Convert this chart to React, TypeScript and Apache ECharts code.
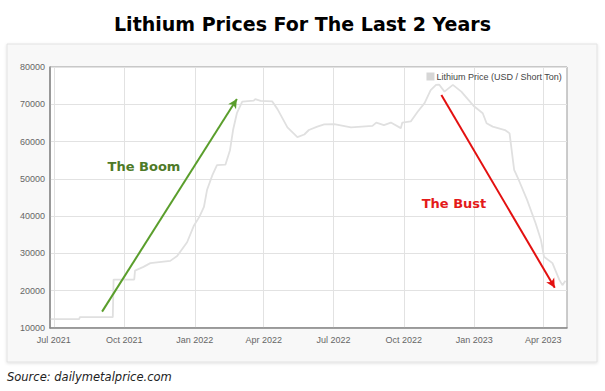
import React, { useEffect, useRef } from "react";
import * as echarts from "echarts";

const dates: string[] = [
  "2021-06-27", "2021-08-03", "2021-08-04", "2021-09-16", "2021-09-17", "2021-10-14",
  "2021-10-15", "2021-10-26", "2021-11-04", "2021-11-30", "2021-12-09", "2021-12-22",
  "2021-12-31", "2022-01-07", "2022-01-13", "2022-01-17", "2022-01-24", "2022-01-30",
  "2022-02-10", "2022-02-16", "2022-02-20", "2022-02-25", "2022-03-04", "2022-03-19",
  "2022-03-21", "2022-03-28", "2022-04-12", "2022-04-19", "2022-05-02", "2022-05-15",
  "2022-05-24", "2022-05-30", "2022-06-10", "2022-06-19", "2022-07-02", "2022-07-24",
  "2022-08-21", "2022-08-26", "2022-09-05", "2022-09-14", "2022-09-27", "2022-09-29",
  "2022-10-10", "2022-10-19", "2022-10-28", "2022-11-05", "2022-11-12", "2022-11-16",
  "2022-11-23", "2022-12-04", "2022-12-15", "2022-12-28", "2023-01-01", "2023-01-12",
  "2023-01-17", "2023-01-25", "2023-02-10", "2023-02-16", "2023-02-22", "2023-02-28",
  "2023-03-11", "2023-03-22", "2023-03-29", "2023-04-02", "2023-04-13", "2023-04-22",
  "2023-04-26", "2023-04-30",
];

const prices: number[] = [
  12400, 12400, 12900, 12900, 23000, 23000,
  25400, 26400, 27400, 28000, 29300, 33000,
  37500, 39800, 42500, 47000, 51000, 53700,
  53800, 57700, 63100, 67600, 70700, 71000,
  71400, 70900, 70800, 68700, 63800, 61200,
  61900, 63100, 64000, 64600, 64700, 63800,
  64200, 65100, 64400, 65100, 63600, 65100,
  65400, 68000, 70300, 73800, 75200, 75300,
  73400, 75200, 73400, 70300, 69400, 67600,
  64900, 64000, 63100, 62200, 52400, 49700,
  44300, 38100, 33600, 29100, 27400, 22900,
  21500, 22700,
];

const xTicks: string[] = [
  "2021-07-01", "2021-10-01", "2022-01-01", "2022-04-01",
  "2022-07-01", "2022-10-01", "2023-01-01", "2023-04-01",
];
const xRange: string[] = ["2021-06-26", "2023-05-02"];
const yRange: number[] = [10000, 80000, 10000];

const boomArrow = { from: ["2021-09-02", 14400], to: ["2022-02-25", 71400] };
const bustArrow = { from: ["2022-11-19", 72500], to: ["2023-04-16", 20800] };

const seriesName = "Lithium Price (USD / Short Ton)";
const monthNames = ["Jan", "Feb", "Mar", "Apr", "May", "Jun", "Jul", "Aug", "Sep", "Oct", "Nov", "Dec"];

const ts = (s: string) => {
  const [y, m, d] = s.split("-").map(Number);
  return Date.UTC(y, m - 1, d);
};

export default function App() {
  const ref = useRef<HTMLDivElement>(null);
  useEffect(() => {
    if (!ref.current) return;
    const chart = echarts.init(ref.current, undefined, { renderer: "svg" });
    const data = dates.map((d, i) => [ts(d), prices[i]]);
    const tickVals = xTicks.map(ts);
    chart.setOption({
      animation: false,
      backgroundColor: "#ffffff",
      title: {
        text: "Lithium Prices For The Last 2 Years",
        left: "center",
        top: 9,
        textStyle: { fontFamily: "DejaVu Sans", fontWeight: "bold", fontSize: 19, color: "#000" },
      },
      graphic: [
        {
          type: "rect",
          z: -10,
          shape: { x: 7, y: 44, width: 590, height: 318 },
          style: { fill: "#f8f8f8", stroke: "#e2e2e2", lineWidth: 1, shadowBlur: 3, shadowColor: "rgba(0,0,0,0.12)", shadowOffsetY: 1 },
        },
        {
          type: "text",
          z: 100,
          x: 144,
          y: 166,
          style: { text: "The Boom", fill: "#4e7a27", font: "bold 13px 'DejaVu Sans'", align: "center", verticalAlign: "middle" },
        },
        {
          type: "text",
          z: 100,
          x: 454,
          y: 203,
          style: { text: "The Bust", fill: "#e41a1a", font: "bold 13px 'DejaVu Sans'", align: "center", verticalAlign: "middle" },
        },
        {
          type: "text",
          z: 100,
          x: 7,
          y: 377,
          style: { text: "Source: dailymetalprice.com", fill: "#222", font: "italic 11.5px 'DejaVu Sans'", align: "left", verticalAlign: "middle" },
        },
      ],
      legend: {
        data: [seriesName],
        right: 43,
        top: 72,
        padding: 0,
        icon: "rect",
        itemWidth: 8,
        itemHeight: 8,
        textStyle: { fontFamily: "Liberation Sans", fontSize: 9, color: "#444", padding: [0, 0, 0, -3] },
      },
      grid: {
        left: 50,
        right: 38,
        top: 67,
        bottom: 63,
        show: true,
        backgroundColor: "#ffffff",
        borderColor: "#999",
        borderWidth: 1,
      },
      xAxis: {
        type: "value",
        min: ts(xRange[0]),
        max: ts(xRange[1]),
        axisLine: { show: true, lineStyle: { color: "#888", width: 1.5 } },
        axisTick: { show: false, customValues: tickVals },
        axisLabel: {
          customValues: tickVals,
          color: "#666",
          fontFamily: "Liberation Sans",
          fontSize: 9,
          margin: 7,
          showMinLabel: true,
          showMaxLabel: true,
          formatter: (v: number) => {
            const d = new Date(v);
            return monthNames[d.getUTCMonth()] + " " + d.getUTCFullYear();
          },
        },
        splitLine: { show: true, lineStyle: { color: "#e2e2e2", width: 1 } },
      },
      yAxis: {
        type: "value",
        min: yRange[0],
        max: yRange[1],
        interval: yRange[2],
        axisLine: { show: true, lineStyle: { color: "#888", width: 1.5 } },
        axisTick: { show: false },
        axisLabel: {
          color: "#666",
          fontFamily: "Liberation Sans",
          fontSize: 9,
          margin: 5,
          formatter: (v: number) => String(v),
        },
        splitLine: { show: true, lineStyle: { color: "#e2e2e2", width: 1 } },
      },
      series: [
        {
          name: seriesName,
          type: "line",
          data,
          showSymbol: false,
          symbol: "none",
          color: "#d6d6d6",
          lineStyle: { color: "#e0e0e0", width: 1.8 },
          markLine: {
            silent: true,
            symbol: ["none", "arrow"],
            symbolSize: [7, 9],
            label: { show: false },
            data: [
              [
                { coord: [ts(boomArrow.from[0] as string), boomArrow.from[1]], lineStyle: { color: "#5a9e2c", width: 2, type: "solid" } },
                { coord: [ts(boomArrow.to[0] as string), boomArrow.to[1]] },
              ],
              [
                { coord: [ts(bustArrow.from[0] as string), bustArrow.from[1]], lineStyle: { color: "#e31010", width: 2, type: "solid" } },
                { coord: [ts(bustArrow.to[0] as string), bustArrow.to[1]] },
              ],
            ],
          },
        },
      ],
    });
    return () => chart.dispose();
  }, []);
  return (
    <div
      ref={ref}
      style={{ position: "fixed", left: 0, top: 0, width: 605, height: 391 }}
    />
  );
}
